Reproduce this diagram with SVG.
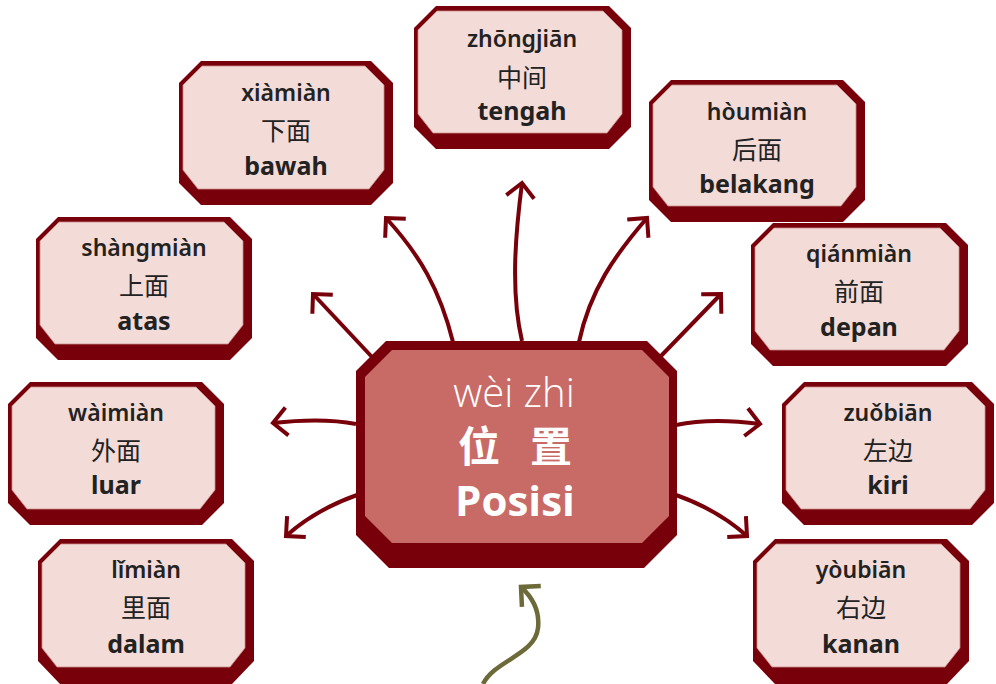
<svg xmlns="http://www.w3.org/2000/svg" width="996" height="684" viewBox="0 0 996 684">
<defs>
<style>
.outer{fill:#78000a}
.inner{fill:#f3dbd8;stroke:#c98a88;stroke-width:0.8}
.py{font-family:"Noto Sans","Open Sans",sans-serif;font-weight:600;font-size:23px;fill:#222;text-anchor:middle}
.hz{font-family:"Noto Sans CJK SC","Noto Sans",sans-serif;font-weight:400;font-size:25px;fill:#222;text-anchor:middle}
.id{font-family:"Noto Sans","Open Sans",sans-serif;font-weight:700;font-size:25px;fill:#222;text-anchor:middle}
.conn{fill:none;stroke:#78000a;stroke-width:4}
.olive{fill:none;stroke:#6d6a3a;stroke-width:4.5}
.chz{font-family:"Noto Sans CJK SC",sans-serif;font-weight:700;font-size:42px;fill:#ffffff;text-anchor:middle}
</style>
<marker id="ah" markerUnits="userSpaceOnUse" markerWidth="40" markerHeight="40" refX="0" refY="0" orient="auto" overflow="visible">
<path d="M-14,-14 L0,0 L-14,14" fill="none" stroke="#78000a" stroke-width="4"/>
</marker>
<marker id="ahg" markerUnits="userSpaceOnUse" markerWidth="40" markerHeight="40" refX="0" refY="0" orient="auto" overflow="visible">
<path d="M-14,-14 L0,0 L-14,14" fill="none" stroke="#6d6a3a" stroke-width="4.5"/>
</marker>
</defs>
<rect width="996" height="684" fill="#ffffff"/>

<g id="connectors">
<path class="conn" d="M522,341 C510,290 516,230 522,183" marker-end="url(#ah)"/>
<path class="conn" d="M453,342 C440,290 420,255 386,218" marker-end="url(#ah)"/>
<path class="conn" d="M579,342 C590,290 615,255 647,218" marker-end="url(#ah)"/>
<path class="conn" d="M372,357 L313,294" marker-end="url(#ah)"/>
<path class="conn" d="M660,357 L721,294" marker-end="url(#ah)"/>
<path class="conn" d="M356,424 C330,419 300,420 273,423" marker-end="url(#ah)"/>
<path class="conn" d="M676,425 C700,420 730,420 760,424" marker-end="url(#ah)"/>
<path class="conn" d="M357,495 Q315,510 286,536" marker-end="url(#ah)"/>
<path class="conn" d="M676,495 Q718,510 747,536" marker-end="url(#ah)"/>
<path class="olive" d="M483,684 C495,660 535,655 538,628 C540,610 532,597 521,587" marker-end="url(#ahg)"/>
</g>

<g id="center">
<polygon class="outer" points="386,341 647,341 677,371 677,535 644,568 389,568 356,535 356,371"/>
<polygon points="392,350 642,350 669,377 669,516 642,543 392,543 365,516 365,377" fill="#c86b67"/>
<text x="514" y="407" text-anchor="middle" font-family="'Open Sans','Noto Sans',sans-serif" font-weight="300" font-size="40" fill="#ffffff">wèi zhi</text>
<text class="chz" x="479" y="462">位</text>
<text class="chz" x="551" y="462">置</text>
<text x="515" y="516" text-anchor="middle" font-family="'Open Sans','Noto Sans',sans-serif" font-weight="700" font-size="42" fill="#ffffff">Posisi</text>
</g>

<g id="zhongjian" transform="translate(414,6)">
<polygon class="outer" points="22,0 195,0 217,22 217,121 195,143 22,143 0,121 0,22"/>
<polygon class="inner" points="23,5 189,5 208,24 208,108 193,127 19,127 4,108 4,24"/>
<text class="py" x="108" y="41">zhōngjiān</text>
<text class="hz" x="108" y="81">中间</text>
<text class="id" x="108" y="114">tengah</text>
</g>

<g id="xiamian" transform="translate(179,61)">
<polygon class="outer" points="22,0 192,0 214,22 214,122 192,144 22,144 0,122 0,22"/>
<polygon class="inner" points="23,5 186,5 205,24 205,109 190,128 19,128 4,109 4,24"/>
<text class="py" x="107" y="40">xiàmiàn</text>
<text class="hz" x="107" y="79">下面</text>
<text class="id" x="107" y="114">bawah</text>
</g>

<g id="houmian" transform="translate(649,80)">
<polygon class="outer" points="22,0 194,0 216,22 216,120 194,142 22,142 0,120 0,22"/>
<polygon class="inner" points="23,5 188,5 207,24 207,107 192,126 19,126 4,107 4,24"/>
<text class="py" x="108" y="40">hòumiàn</text>
<text class="hz" x="108" y="79">后面</text>
<text class="id" x="108" y="113">belakang</text>
</g>

<g id="shangmian" transform="translate(36,217)">
<polygon class="outer" points="22,0 194,0 216,22 216,121 194,143 22,143 0,121 0,22"/>
<polygon class="inner" points="23,5 188,5 207,24 207,108 192,127 19,127 4,108 4,24"/>
<text class="py" x="108" y="39">shàngmiàn</text>
<text class="hz" x="108" y="78">上面</text>
<text class="id" x="108" y="113">atas</text>
</g>

<g id="qianmian" transform="translate(751,223)">
<polygon class="outer" points="22,0 195,0 217,22 217,121 195,143 22,143 0,121 0,22"/>
<polygon class="inner" points="23,5 189,5 208,24 208,108 193,127 19,127 4,108 4,24"/>
<text class="py" x="108" y="39">qiánmiàn</text>
<text class="hz" x="108" y="78">前面</text>
<text class="id" x="108" y="113">depan</text>
</g>

<g id="waimian" transform="translate(8,382)">
<polygon class="outer" points="22,0 194,0 216,22 216,121 194,143 22,143 0,121 0,22"/>
<polygon class="inner" points="23,5 188,5 207,24 207,108 192,127 19,127 4,108 4,24"/>
<text class="py" x="108" y="39">wàimiàn</text>
<text class="hz" x="108" y="78">外面</text>
<text class="id" x="108" y="112">luar</text>
</g>

<g id="zuobian" transform="translate(782,382)">
<polygon class="outer" points="22,0 190,0 212,22 212,121 190,143 22,143 0,121 0,22"/>
<polygon class="inner" points="23,5 184,5 203,24 203,108 188,127 19,127 4,108 4,24"/>
<text class="py" x="106" y="39">zuǒbiān</text>
<text class="hz" x="106" y="78">左边</text>
<text class="id" x="106" y="112">kiri</text>
</g>

<g id="limian" transform="translate(38,539)">
<polygon class="outer" points="22,0 194,0 216,22 216,122 194,145 22,145 0,122 0,22"/>
<polygon class="inner" points="23,5 188,5 207,24 207,109 192,128 19,128 4,109 4,24"/>
<text class="py" x="108" y="39">lǐmiàn</text>
<text class="hz" x="108" y="78">里面</text>
<text class="id" x="108" y="114">dalam</text>
</g>

<g id="youbian" transform="translate(753,539)">
<polygon class="outer" points="22,0 194,0 216,22 216,122 194,145 22,145 0,122 0,22"/>
<polygon class="inner" points="23,5 188,5 207,24 207,109 192,128 19,128 4,109 4,24"/>
<text class="py" x="108" y="39">yòubiān</text>
<text class="hz" x="108" y="78">右边</text>
<text class="id" x="108" y="114">kanan</text>
</g>
</svg>
